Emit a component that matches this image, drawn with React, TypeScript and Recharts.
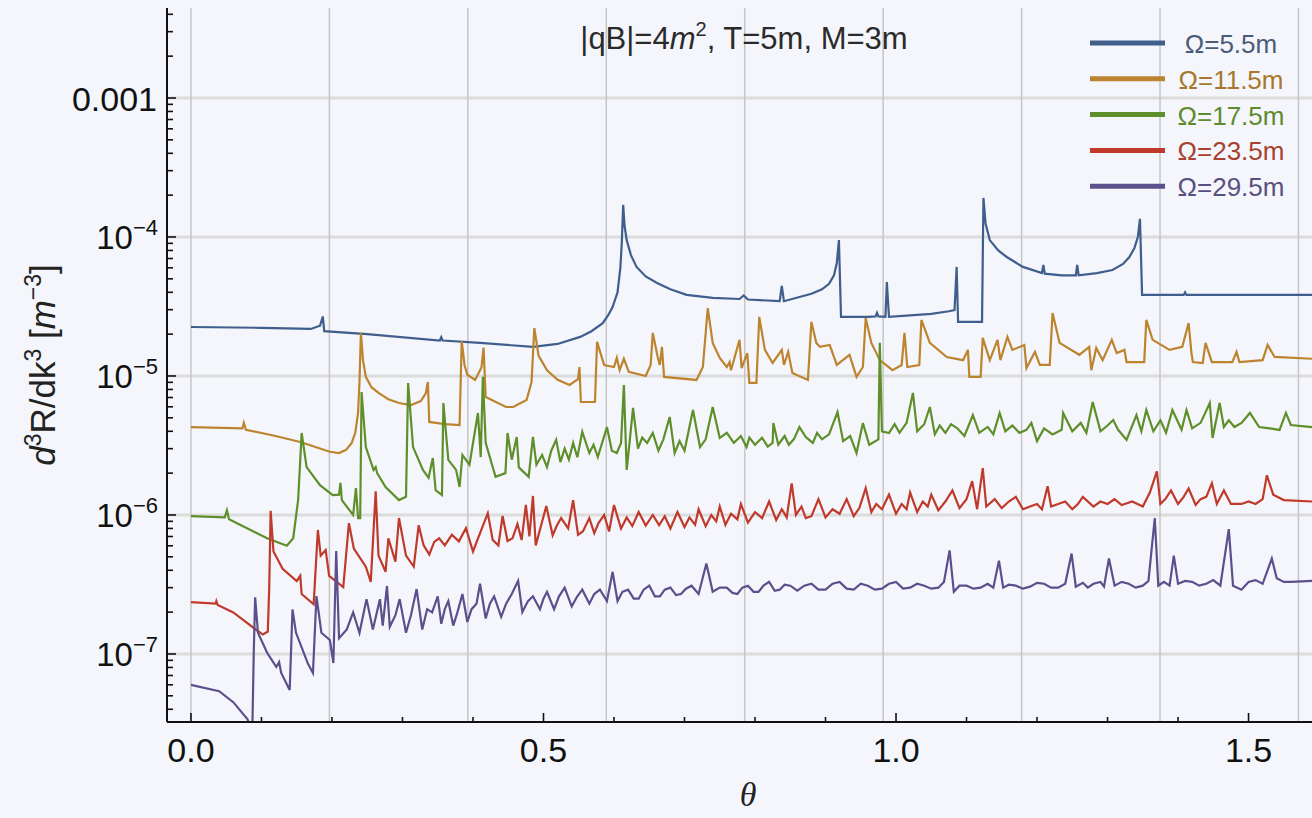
import React from 'react';
import { LineChart, Line, XAxis, YAxis, ReferenceLine } from 'recharts';

// theta (rad) vs d^3R/dk^3
const omega55: [number, number][] = [
  [0, 2.25e-5], [0.1, 2.22e-5], [0.17, 2.18e-5], [0.183, 2.3e-5], [0.187, 2.68e-5], [0.189, 2.1e-5],
  [0.25, 2.0e-5], [0.353, 1.8e-5], [0.355, 1.9e-5], [0.357, 1.8e-5], [0.41, 1.73e-5], [0.485, 1.62e-5],
  [0.52, 1.7e-5], [0.552, 1.91e-5], [0.568, 2.1e-5], [0.584, 2.4e-5], [0.592, 2.75e-5], [0.598, 3.13e-5],
  [0.605, 4.0e-5], [0.609, 6.0e-5], [0.611, 9.0e-5], [0.613, 1.7e-4], [0.615, 1.2e-4], [0.618, 9.5e-5],
  [0.624, 7.4e-5], [0.632, 6.09e-5], [0.645, 5.2e-5], [0.661, 4.67e-5], [0.68, 4.2e-5], [0.703, 3.83e-5],
  [0.74, 3.65e-5], [0.778, 3.58e-5], [0.784, 3.8e-5], [0.79, 3.55e-5], [0.835, 3.45e-5], [0.838, 4.44e-5],
  [0.841, 3.45e-5], [0.88, 3.9e-5], [0.895, 4.2e-5], [0.905, 4.6e-5], [0.912, 5.3e-5], [0.916, 6.5e-5],
  [0.919, 9.5e-5], [0.922, 2.66e-5], [0.96, 2.66e-5], [0.971, 2.68e-5], [0.973, 2.85e-5], [0.975, 2.68e-5],
  [0.985, 2.66e-5], [0.987, 4.74e-5], [0.99, 2.66e-5], [1.05, 2.8e-5], [1.075, 2.92e-5], [1.083, 2.98e-5],
  [1.086, 6.09e-5], [1.088, 2.45e-5], [1.122, 2.45e-5], [1.124, 1.91e-4], [1.127, 1.25e-4], [1.133, 9.5e-5],
  [1.145, 8.0e-5], [1.157, 7.18e-5], [1.18, 6.09e-5], [1.207, 5.51e-5], [1.209, 6.29e-5], [1.211, 5.45e-5],
  [1.235, 5.3e-5], [1.255, 5.3e-5], [1.257, 6.29e-5], [1.259, 5.3e-5], [1.285, 5.5e-5], [1.307, 5.79e-5],
  [1.322, 6.4e-5], [1.331, 7.18e-5], [1.338, 8.3e-5], [1.343, 1.0e-4], [1.346, 1.35e-4], [1.349, 3.83e-5],
  [1.408, 3.83e-5], [1.41, 4.0e-5], [1.412, 3.83e-5], [1.59, 3.83e-5],
];

const omega115: [number, number][] = [
  [0, 4.29e-6], [0.073, 4.2e-6], [0.075, 4.6e-6], [0.078, 4.1e-6], [0.12, 3.7e-6], [0.155, 3.35e-6],
  [0.197, 2.85e-6], [0.21, 2.79e-6], [0.22, 2.94e-6], [0.228, 3.3e-6], [0.233, 3.9e-6], [0.237, 5.42e-6],
  [0.239, 9e-6], [0.241, 2.04e-5], [0.244, 1.3e-5], [0.248, 9.85e-6], [0.256, 8.3e-6], [0.266, 7.55e-6],
  [0.28, 6.8e-6], [0.295, 6.39e-6], [0.312, 6.18e-6], [0.326, 6.6e-6], [0.333, 7.5e-6], [0.336, 9.05e-6],
  [0.338, 4.67e-6], [0.36, 4.5e-6], [0.381, 4.44e-6], [0.384, 1.78e-5], [0.388, 1.2e-5], [0.392, 1.02e-5],
  [0.403, 9.36e-6], [0.412, 1.15e-5], [0.415, 1.6e-5], [0.418, 7.06e-6], [0.447, 5.98e-6], [0.457, 5.98e-6],
  [0.476, 6.72e-6], [0.483, 9e-6], [0.487, 2.21e-5], [0.493, 1.4e-5], [0.505, 1.1e-5], [0.52, 9.4e-6],
  [0.537, 8.61e-6], [0.549, 9.5e-6], [0.551, 1.16e-5], [0.553, 6.5e-6], [0.573, 6.5e-6], [0.576, 1.76e-5],
  [0.586, 1.2e-5], [0.6, 1.16e-5], [0.604, 1.35e-5], [0.608, 1.1e-5], [0.614, 1.33e-5], [0.621, 1.07e-5],
  [0.645, 1.0e-5], [0.652, 1.2e-5], [0.655, 2.04e-5], [0.662, 1.37e-5], [0.665, 1.2e-5], [0.668, 1.62e-5],
  [0.671, 9.85e-6], [0.717, 9.36e-6], [0.726, 1.16e-5], [0.733, 3.08e-5], [0.74, 1.73e-5], [0.75, 1.35e-5],
  [0.76, 1.16e-5], [0.764, 1.26e-5], [0.766, 1.1e-5], [0.778, 1.82e-5], [0.781, 1.14e-5], [0.789, 1.46e-5],
  [0.792, 8.91e-6], [0.802, 8.91e-6], [0.806, 2.66e-5], [0.814, 1.54e-5], [0.825, 1.24e-5], [0.838, 1.54e-5],
  [0.841, 1.2e-5], [0.847, 1.49e-5], [0.853, 1.05e-5], [0.875, 9.36e-6], [0.88, 2.45e-5], [0.887, 1.73e-5],
  [0.892, 1.62e-5], [0.906, 1.67e-5], [0.916, 1.2e-5], [0.934, 1.42e-5], [0.944, 9.85e-6], [0.953, 1.16e-5],
  [0.957, 2.61e-5], [0.965, 1.73e-5], [0.977, 1.3e-5], [0.995, 1.1e-5], [1.008, 1.2e-5], [1.012, 2.04e-5],
  [1.016, 1.16e-5], [1.033, 1.2e-5], [1.036, 2.53e-5], [1.048, 1.73e-5], [1.072, 1.37e-5], [1.095, 1.3e-5],
  [1.102, 1.54e-5], [1.104, 9.85e-6], [1.12, 9.85e-6], [1.123, 1.88e-5], [1.133, 1.3e-5], [1.144, 1.82e-5],
  [1.148, 1.3e-5], [1.158, 1.91e-5], [1.165, 1.54e-5], [1.182, 1.67e-5], [1.185, 1.14e-5], [1.197, 1.49e-5],
  [1.204, 1.2e-5], [1.218, 1.2e-5], [1.222, 2.84e-5], [1.232, 1.73e-5], [1.26, 1.42e-5], [1.274, 1.62e-5],
  [1.277, 1.1e-5], [1.284, 1.59e-5], [1.293, 1.3e-5], [1.306, 1.82e-5], [1.313, 1.46e-5], [1.324, 1.54e-5],
  [1.327, 1.26e-5], [1.352, 1.26e-5], [1.355, 2.53e-5], [1.364, 1.82e-5], [1.388, 1.54e-5], [1.406, 1.62e-5],
  [1.415, 2.4e-5], [1.419, 1.46e-5], [1.421, 1.26e-5], [1.435, 1.24e-5], [1.439, 1.73e-5], [1.448, 1.26e-5],
  [1.477, 1.26e-5], [1.483, 1.49e-5], [1.487, 1.26e-5], [1.52, 1.3e-5], [1.527, 1.67e-5], [1.537, 1.37e-5],
  [1.59, 1.33e-5],
];

const omega175: [number, number][] = [
  [0, 9.8e-7], [0.048, 9.6e-7], [0.051, 1.08e-6], [0.054, 9.3e-7], [0.108, 6.8e-7], [0.136, 6.0e-7],
  [0.145, 6.8e-7], [0.152, 1.28e-6], [0.157, 3.89e-6], [0.164, 2.21e-6], [0.183, 1.64e-6], [0.201, 1.39e-6],
  [0.21, 1.4e-6], [0.212, 1.7e-6], [0.214, 1.28e-6], [0.23, 1.0e-6], [0.234, 1.56e-6], [0.237, 9.5e-7],
  [0.24, 9.5e-7], [0.242, 7.67e-6], [0.248, 3.08e-6], [0.259, 2.11e-6], [0.262, 2.21e-6], [0.264, 2.0e-6],
  [0.276, 1.59e-6], [0.295, 1.28e-6], [0.305, 1.35e-6], [0.308, 8.9e-6], [0.315, 3.08e-6], [0.329, 2.11e-6],
  [0.337, 1.85e-6], [0.343, 2.57e-6], [0.347, 1.51e-6], [0.356, 1.39e-6], [0.358, 6.39e-6], [0.365, 2.49e-6],
  [0.376, 2.11e-6], [0.381, 1.59e-6], [0.385, 2.7e-6], [0.395, 2.3e-6], [0.407, 5.42e-6], [0.411, 2.61e-6],
  [0.414, 9.85e-6], [0.418, 3.3e-6], [0.432, 1.88e-6], [0.446, 2.0e-6], [0.449, 3.89e-6], [0.455, 2.5e-6],
  [0.462, 3.64e-6], [0.465, 2.2e-6], [0.479, 1.88e-6], [0.485, 3.64e-6], [0.49, 2.3e-6], [0.498, 2.7e-6],
  [0.505, 2.21e-6], [0.511, 2.9e-6], [0.518, 3.47e-6], [0.524, 2.4e-6], [0.53, 3.0e-6], [0.536, 2.5e-6],
  [0.542, 3.3e-6], [0.548, 2.6e-6], [0.555, 3.96e-6], [0.565, 2.79e-6], [0.571, 3.2e-6], [0.577, 2.61e-6],
  [0.59, 4.29e-6], [0.597, 2.9e-6], [0.604, 2.79e-6], [0.61, 3.3e-6], [0.614, 8.61e-6], [0.618, 2.11e-6],
  [0.622, 3.3e-6], [0.627, 5.89e-6], [0.634, 3.0e-6], [0.64, 3.6e-6], [0.647, 3.3e-6], [0.655, 3.89e-6],
  [0.663, 2.9e-6], [0.67, 3.5e-6], [0.679, 5.07e-6], [0.686, 2.79e-6], [0.693, 3.4e-6], [0.7, 2.9e-6],
  [0.712, 5.69e-6], [0.722, 3.08e-6], [0.73, 3.5e-6], [0.74, 5.98e-6], [0.75, 3.58e-6], [0.76, 3.9e-6],
  [0.77, 3.3e-6], [0.78, 3.7e-6], [0.788, 3.08e-6], [0.792, 3.6e-6], [0.8, 3.2e-6], [0.81, 3.6e-6],
  [0.818, 3.1e-6], [0.825, 3.3e-6], [0.826, 4.59e-6], [0.833, 3.2e-6], [0.842, 3.7e-6], [0.848, 3.2e-6],
  [0.855, 3.5e-6], [0.863, 4.29e-6], [0.872, 3.64e-6], [0.882, 3.3e-6], [0.888, 3.9e-6], [0.895, 3.5e-6],
  [0.905, 3.8e-6], [0.917, 5.5e-6], [0.925, 3.4e-6], [0.935, 3.7e-6], [0.944, 2.79e-6], [0.953, 4.59e-6],
  [0.962, 3.2e-6], [0.975, 3.5e-6], [0.977, 1.73e-5], [0.98, 4.0e-6], [0.99, 3.89e-6], [0.998, 4.5e-6],
  [1.005, 3.9e-6], [1.015, 4.6e-6], [1.024, 7.55e-6], [1.03, 4.0e-6], [1.04, 4.5e-6], [1.048, 5.98e-6],
  [1.055, 3.8e-6], [1.062, 4.4e-6], [1.07, 3.9e-6], [1.078, 4.5e-6], [1.087, 4.2e-6], [1.097, 3.7e-6],
  [1.109, 5.24e-6], [1.118, 3.9e-6], [1.13, 4.3e-6], [1.138, 3.8e-6], [1.147, 5.42e-6], [1.155, 4.0e-6],
  [1.165, 4.4e-6], [1.175, 3.9e-6], [1.185, 4.1e-6], [1.192, 4.6e-6], [1.2, 3.4e-6], [1.21, 4.2e-6],
  [1.222, 3.8e-6], [1.235, 4.1e-6], [1.237, 5.42e-6], [1.25, 4.0e-6], [1.262, 4.6e-6], [1.27, 3.9e-6],
  [1.279, 6.5e-6], [1.29, 4.0e-6], [1.3, 4.4e-6], [1.308, 4.82e-6], [1.315, 4.1e-6], [1.327, 3.47e-6],
  [1.341, 5.24e-6], [1.348, 4.0e-6], [1.355, 5.69e-6], [1.365, 4.0e-6], [1.375, 4.8e-6], [1.383, 3.9e-6],
  [1.392, 5.69e-6], [1.405, 4.1e-6], [1.412, 5.69e-6], [1.42, 4.2e-6], [1.432, 4.6e-6], [1.445, 6.39e-6],
  [1.449, 3.58e-6], [1.459, 6.39e-6], [1.465, 4.3e-6], [1.472, 4.8e-6], [1.48, 4.29e-6], [1.49, 4.6e-6],
  [1.502, 5.42e-6], [1.515, 4.29e-6], [1.53, 4.2e-6], [1.544, 4.09e-6], [1.553, 5.42e-6], [1.56, 4.44e-6],
  [1.59, 4.29e-6],
];

const omega235: [number, number][] = [
  [0, 2.36e-7], [0.035, 2.3e-7], [0.036, 2.4e-7], [0.038, 2.25e-7], [0.06, 1.99e-7], [0.092, 1.5e-7],
  [0.102, 1.38e-7], [0.109, 1.45e-7], [0.111, 3.0e-7], [0.113, 1.07e-6], [0.117, 5.46e-7], [0.13, 4.1e-7],
  [0.15, 3.35e-7], [0.155, 3.65e-7], [0.157, 2.7e-7], [0.174, 2.28e-7], [0.18, 7.8e-7], [0.184, 5.1e-7],
  [0.191, 5.6e-7], [0.196, 3.65e-7], [0.216, 3.03e-7], [0.224, 8.74e-7], [0.231, 5.74e-7], [0.248, 4.25e-7],
  [0.255, 3.3e-7], [0.262, 1.48e-6], [0.266, 5.1e-7], [0.276, 3.9e-7], [0.28, 6.79e-7], [0.29, 4.62e-7],
  [0.295, 9.51e-7], [0.305, 5.1e-7], [0.316, 4.25e-7], [0.323, 8.45e-7], [0.33, 6.04e-7], [0.338, 5.2e-7],
  [0.345, 6.4e-7], [0.352, 6.79e-7], [0.36, 6.04e-7], [0.37, 7.2e-7], [0.38, 6.46e-7], [0.39, 8.04e-7],
  [0.4, 5.46e-7], [0.41, 7.4e-7], [0.421, 1.03e-6], [0.428, 6.6e-7], [0.436, 6.04e-7], [0.442, 9.83e-7],
  [0.449, 6.5e-7], [0.456, 6.79e-7], [0.463, 8.6e-7], [0.469, 6.6e-7], [0.475, 1.18e-6], [0.48, 7.0e-7],
  [0.485, 1.37e-6], [0.489, 6.04e-7], [0.496, 8.2e-7], [0.504, 1.16e-6], [0.513, 7.14e-7], [0.519, 8.4e-7],
  [0.525, 9.5e-7], [0.535, 8.0e-7], [0.542, 1.28e-6], [0.549, 7.2e-7], [0.556, 7.64e-7], [0.565, 9.5e-7],
  [0.572, 7.4e-7], [0.578, 8.74e-7], [0.586, 1.0e-6], [0.593, 7.6e-7], [0.6, 1.18e-6], [0.61, 8.0e-7],
  [0.618, 9.6e-7], [0.626, 8.32e-7], [0.635, 1.05e-6], [0.645, 8.4e-7], [0.655, 1.0e-6], [0.664, 8.45e-7],
  [0.672, 9.8e-7], [0.68, 8.0e-7], [0.69, 1.05e-6], [0.7, 8.2e-7], [0.707, 9.6e-7], [0.715, 8.5e-7],
  [0.72, 1.1e-6], [0.73, 8.3e-7], [0.738, 1.0e-6], [0.745, 9.0e-7], [0.75, 1.15e-6], [0.758, 8.5e-7],
  [0.766, 1.02e-6], [0.775, 9.3e-7], [0.78, 1.2e-6], [0.79, 8.8e-7], [0.8, 1.05e-6], [0.81, 9.5e-7],
  [0.82, 1.25e-6], [0.83, 9.2e-7], [0.838, 1.1e-6], [0.845, 9.6e-7], [0.852, 1.69e-6], [0.858, 1.0e-6],
  [0.866, 1.15e-6], [0.872, 9.5e-7], [0.88, 9.8e-7], [0.89, 1.3e-6], [0.9, 9.6e-7], [0.91, 1.1e-6],
  [0.92, 1.02e-6], [0.93, 1.3e-6], [0.94, 9.8e-7], [0.948, 1.12e-6], [0.957, 1.56e-6], [0.965, 1.05e-6],
  [0.972, 1.2e-6], [0.98, 1.1e-6], [0.99, 1.4e-6], [1.0, 1.02e-6], [1.008, 1.2e-6], [1.015, 1.1e-6],
  [1.02, 1.45e-6], [1.03, 1.05e-6], [1.038, 1.25e-6], [1.045, 1.15e-6], [1.05, 1.4e-6], [1.06, 1.08e-6],
  [1.07, 1.25e-6], [1.08, 1.5e-6], [1.09, 1.12e-6], [1.1, 1.3e-6], [1.108, 1.75e-6], [1.115, 1.1e-6],
  [1.123, 2.17e-6], [1.128, 1.15e-6], [1.14, 1.3e-6], [1.15, 1.12e-6], [1.16, 1.25e-6], [1.17, 1.35e-6],
  [1.18, 1.1e-6], [1.19, 1.15e-6], [1.2, 1.2e-6], [1.207, 1.1e-6], [1.215, 1.61e-6], [1.22, 1.15e-6],
  [1.23, 1.2e-6], [1.24, 1.25e-6], [1.25, 1.1e-6], [1.258, 1.2e-6], [1.265, 1.35e-6], [1.28, 1.15e-6],
  [1.29, 1.25e-6], [1.3, 1.2e-6], [1.31, 1.3e-6], [1.32, 1.18e-6], [1.335, 1.25e-6], [1.35, 1.15e-6],
  [1.36, 1.45e-6], [1.37, 2.06e-6], [1.375, 1.2e-6], [1.382, 1.3e-6], [1.39, 1.5e-6], [1.4, 1.2e-6],
  [1.408, 1.35e-6], [1.415, 1.55e-6], [1.425, 1.18e-6], [1.432, 1.3e-6], [1.44, 1.35e-6], [1.448, 1.69e-6],
  [1.455, 1.2e-6], [1.465, 1.5e-6], [1.475, 1.2e-6], [1.49, 1.2e-6], [1.5, 1.25e-6], [1.51, 1.2e-6],
  [1.52, 1.3e-6], [1.526, 1.93e-6], [1.535, 1.4e-6], [1.55, 1.28e-6], [1.59, 1.25e-6],
];

const omega295: [number, number][] = [
  [0, 6.0e-8], [0.04, 5.4e-8], [0.06, 4.5e-8], [0.08, 3.4e-8], [0.087, 2.8e-8], [0.089, 1.0e-7],
  [0.091, 2.56e-7], [0.095, 1.42e-7], [0.108, 1.02e-7], [0.115, 9.0e-8], [0.121, 8.06e-8], [0.125, 8.75e-8],
  [0.128, 7.3e-8], [0.14, 5.5e-8], [0.144, 2.09e-7], [0.149, 1.42e-7], [0.166, 8.5e-8], [0.173, 7.3e-8],
  [0.178, 2.61e-7], [0.185, 1.42e-7], [0.197, 1.26e-7], [0.202, 8.6e-8], [0.206, 5.5e-7], [0.21, 1.3e-7],
  [0.221, 1.5e-7], [0.23, 1.99e-7], [0.239, 1.42e-7], [0.249, 2.48e-7], [0.258, 1.5e-7], [0.268, 2.48e-7],
  [0.272, 1.6e-7], [0.278, 3.08e-7], [0.282, 1.57e-7], [0.29, 1.9e-7], [0.296, 2.48e-7], [0.305, 1.42e-7],
  [0.312, 1.9e-7], [0.32, 2.93e-7], [0.328, 1.5e-7], [0.335, 2.1e-7], [0.342, 1.99e-7], [0.35, 2.6e-7],
  [0.355, 1.65e-7], [0.36, 2.1e-7], [0.365, 2.4e-7], [0.372, 1.6e-7], [0.378, 2.0e-7], [0.385, 2.7e-7],
  [0.392, 1.7e-7], [0.398, 2.1e-7], [0.405, 2.3e-7], [0.41, 3.2e-7], [0.418, 1.8e-7], [0.424, 2.3e-7],
  [0.43, 2.6e-7], [0.44, 1.85e-7], [0.447, 2.3e-7], [0.455, 2.7e-7], [0.464, 3.36e-7], [0.47, 2.0e-7],
  [0.478, 2.4e-7], [0.485, 2.6e-7], [0.495, 2.1e-7], [0.5, 2.5e-7], [0.505, 2.8e-7], [0.515, 2.1e-7],
  [0.522, 2.6e-7], [0.53, 3.0e-7], [0.54, 2.2e-7], [0.548, 2.6e-7], [0.555, 2.9e-7], [0.565, 2.3e-7],
  [0.572, 2.7e-7], [0.58, 2.9e-7], [0.59, 2.4e-7], [0.598, 3.9e-7], [0.605, 2.4e-7], [0.612, 2.8e-7],
  [0.62, 2.9e-7], [0.628, 2.5e-7], [0.635, 2.5e-7], [0.642, 2.9e-7], [0.65, 3.1e-7], [0.658, 2.6e-7],
  [0.665, 2.6e-7], [0.672, 2.9e-7], [0.68, 3.0e-7], [0.688, 2.65e-7], [0.695, 2.7e-7], [0.702, 2.95e-7],
  [0.71, 3.1e-7], [0.72, 2.7e-7], [0.731, 4.47e-7], [0.74, 2.8e-7], [0.75, 3.0e-7], [0.76, 3.0e-7],
  [0.768, 2.75e-7], [0.775, 2.7e-7], [0.782, 3.0e-7], [0.79, 3.1e-7], [0.798, 2.8e-7], [0.805, 2.8e-7],
  [0.812, 3.1e-7], [0.82, 3.3e-7], [0.828, 2.85e-7], [0.835, 2.9e-7], [0.842, 3.15e-7], [0.85, 3.1e-7],
  [0.86, 2.85e-7], [0.87, 3.1e-7], [0.88, 3.2e-7], [0.89, 2.9e-7], [0.9, 2.9e-7], [0.91, 3.2e-7],
  [0.92, 3.3e-7], [0.93, 2.95e-7], [0.94, 2.9e-7], [0.95, 3.2e-7], [0.96, 3.1e-7], [0.97, 2.9e-7],
  [0.98, 2.95e-7], [0.99, 3.2e-7], [1.0, 3.3e-7], [1.01, 2.95e-7], [1.02, 3.0e-7], [1.03, 3.2e-7],
  [1.04, 3.1e-7], [1.05, 2.95e-7], [1.06, 3.0e-7], [1.068, 3.3e-7], [1.076, 5.56e-7], [1.082, 2.8e-7],
  [1.09, 3.1e-7], [1.1, 3.1e-7], [1.11, 2.95e-7], [1.12, 3.0e-7], [1.13, 3.2e-7], [1.138, 3.0e-7],
  [1.146, 4.69e-7], [1.152, 3.0e-7], [1.16, 3.15e-7], [1.17, 3.1e-7], [1.18, 2.95e-7], [1.19, 3.05e-7],
  [1.2, 3.25e-7], [1.21, 3.2e-7], [1.22, 3.0e-7], [1.23, 3.0e-7], [1.24, 3.2e-7], [1.249, 5.28e-7],
  [1.255, 3.05e-7], [1.265, 3.25e-7], [1.272, 3.0e-7], [1.28, 3.2e-7], [1.29, 3.3e-7], [1.295, 3.05e-7],
  [1.302, 4.86e-7], [1.31, 3.1e-7], [1.32, 3.3e-7], [1.33, 3.2e-7], [1.34, 3.0e-7], [1.35, 3.1e-7],
  [1.358, 3.35e-7], [1.367, 9.51e-7], [1.372, 3.1e-7], [1.38, 3.3e-7], [1.388, 3.1e-7], [1.394, 5.1e-7],
  [1.4, 3.2e-7], [1.41, 3.35e-7], [1.42, 3.3e-7], [1.43, 3.1e-7], [1.44, 3.2e-7], [1.45, 3.4e-7],
  [1.46, 3.1e-7], [1.472, 7.91e-7], [1.478, 3.1e-7], [1.49, 2.9e-7], [1.5, 3.3e-7], [1.51, 3.4e-7],
  [1.52, 3.2e-7], [1.533, 4.86e-7], [1.54, 3.5e-7], [1.55, 3.3e-7], [1.56, 3.3e-7], [1.59, 3.36e-7],
];

const seriesNames = ['Ω=5.5m', 'Ω=11.5m', 'Ω=17.5m', 'Ω=23.5m', 'Ω=29.5m'];
const seriesColors = ['#3f5e8c', '#bd8430', '#5e8f2a', '#c03a2c', '#5b4f8c'];
const legendTextColors = ['#4b5a78', '#a8772e', '#5f8a2e', '#a8412f', '#5a5080'];

const xTicks = [0, 0.1, 0.2, 0.3, 0.4, 0.5, 0.6, 0.7, 0.8, 0.9, 1.0, 1.1, 1.2, 1.3, 1.4, 1.5];
const xMajorTicks = [0, 0.5, 1.0, 1.5];
const gridX = [0, 1, 2, 3, 4, 5, 6, 7, 8].map((k) => (k * Math.PI) / 16);
const yDecades = [1e-7, 1e-6, 1e-5, 1e-4, 1e-3];
const yTicks: number[] = [];
[1e-8, 1e-7, 1e-6, 1e-5, 1e-4, 1e-3].forEach((d) => {
  for (let m = 1; m <= 9; m++) yTicks.push(m * d);
});

const X_DOMAIN = [-0.034, 1.59];
const Y_DOMAIN = [3.24e-8, 4.44e-3];

const FONT = '"Liberation Sans", Arial, sans-serif';

const toPoints = (rows: [number, number][]) => rows.map(([x, y]) => ({ x, y }));
const seriesData = [omega55, omega115, omega175, omega235, omega295].map(toPoints);

const isMajorX = (v: number) => xMajorTicks.some((m) => Math.abs(m - v) < 1e-6);

const BottomTick = (props: any) => {
  const { x, y, payload } = props;
  const major = isMajorX(payload.value);
  return (
    <g>
      <line x1={x} x2={x} y1={y} y2={y - (major ? 9 : 5)} stroke="#111" strokeWidth={1.6} />
      {major && (
        <text x={x} y={y + 40} textAnchor="middle" fontSize={34} fontFamily={FONT} fill="#111">
          {payload.value.toFixed(1)}
        </text>
      )}
    </g>
  );
};

const TopTick = (props: any) => {
  const { x, y, payload } = props;
  const major = isMajorX(payload.value);
  return <line x1={x} x2={x} y1={y} y2={y + (major ? 9 : 5)} stroke="#111" strokeWidth={1.6} />;
};

const LeftTick = (props: any) => {
  const { x, y, payload } = props;
  const e = Math.log10(payload.value);
  const major = Math.abs(e - Math.round(e)) < 1e-6;
  const exp = Math.round(e);
  return (
    <g>
      <line x1={x} x2={x + (major ? 9 : 6)} y1={y} y2={y} stroke="#111" strokeWidth={1.6} />
      {major && exp === -3 && (
        <text x={x - 10} y={y + 13} textAnchor="end" fontSize={34} fontFamily={FONT} fill="#111">
          0.001
        </text>
      )}
      {major && exp < -3 && (
        <text x={x - 9} y={y + 12} textAnchor="end" fontSize={33} fontFamily={FONT} fill="#111">
          10
          <tspan dy={-14} fontSize={22}>
            {'−' + Math.abs(exp)}
          </tspan>
        </text>
      )}
    </g>
  );
};

export default function App() {
  return (
    <div style={{ position: 'absolute', left: 0, top: 0, width: 1312, height: 818, background: '#f5f6fb', overflow: 'hidden' }}>
      <LineChart width={1312} height={818} margin={{ top: 8, right: 0, bottom: 0, left: 0 }}>
        <XAxis
          xAxisId="x"
          type="number"
          dataKey="x"
          domain={X_DOMAIN}
          allowDataOverflow
          ticks={xTicks}
          interval={0}
          height={96}
          tickSize={0}
          tickMargin={0}
          tickLine={false}
          tick={<BottomTick />}
          axisLine={{ stroke: '#111', strokeWidth: 2 }}
        />
        <XAxis
          xAxisId="top"
          orientation="top"
          type="number"
          dataKey="x"
          domain={X_DOMAIN}
          allowDataOverflow
          ticks={xTicks}
          interval={0}
          height={0}
          tickSize={0}
          tickMargin={0}
          tickLine={false}
          tick={<TopTick />}
          axisLine={{ stroke: '#111', strokeWidth: 2 }}
        />
        <YAxis
          type="number"
          scale="log"
          domain={Y_DOMAIN}
          allowDataOverflow
          ticks={yTicks.filter((t) => t >= Y_DOMAIN[0] && t <= Y_DOMAIN[1])}
          interval={0}
          width={167}
          tickSize={0}
          tickMargin={0}
          tickLine={false}
          tick={<LeftTick />}
          axisLine={{ stroke: '#111', strokeWidth: 2 }}
        />
        {yDecades.map((v) => (
          <ReferenceLine key={'h' + v} xAxisId="x" y={v} stroke="#dcdcdc" strokeWidth={3} />
        ))}
        {gridX.map((v) => (
          <ReferenceLine key={'v' + v} xAxisId="x" x={v} stroke="#c6c6c6" strokeWidth={1.5} />
        ))}
        {seriesData.map((d, i) => (
          <Line
            key={seriesNames[i]}
            xAxisId="x"
            data={d}
            dataKey="y"
            name={seriesNames[i]}
            type="linear"
            stroke={seriesColors[i]}
            strokeWidth={2.2}
            dot={false}
            isAnimationActive={false}
          />
        ))}
      </LineChart>
      <svg width={1312} height={818} style={{ position: 'absolute', left: 0, top: 0, pointerEvents: 'none' }}>
        <text x={744} y={49} textAnchor="middle" fontSize={31} fontFamily={FONT} fill="#2a2a2a">
          |qB|=4<tspan fontStyle="italic">m</tspan>
          <tspan dy={-13} fontSize={20}>2</tspan>
          <tspan dy={13}>, T=5m, M=3m</tspan>
        </text>
        {seriesNames.map((name, i) => (
          <g key={name}>
            <line x1={1090} x2={1165} y1={43 + i * 35.8} y2={43 + i * 35.8} stroke={seriesColors[i]} strokeWidth={5} />
            <text x={1231} y={53 + i * 35.8} textAnchor="middle" fontSize={26} fontFamily={FONT} fill={legendTextColors[i]}>
              {name}
            </text>
          </g>
        ))}
        <text x={748} y={806} textAnchor="middle" fontSize={34} fontStyle="italic" fontFamily='"Liberation Serif", serif' fill="#222">
          θ
        </text>
        <text transform="translate(55,365) rotate(-90)" textAnchor="middle" fontSize={35} fontFamily={FONT} fill="#222">
          <tspan fontStyle="italic">d</tspan>
          <tspan dy={-14} fontSize={23}>3</tspan>
          <tspan dy={14}>R/dk</tspan>
          <tspan dy={-14} fontSize={23}>3</tspan>
          <tspan dy={14}> [</tspan>
          <tspan fontStyle="italic">m</tspan>
          <tspan dy={-14} fontSize={23}>−3</tspan>
          <tspan dy={14}>]</tspan>
        </text>
      </svg>
    </div>
  );
}
